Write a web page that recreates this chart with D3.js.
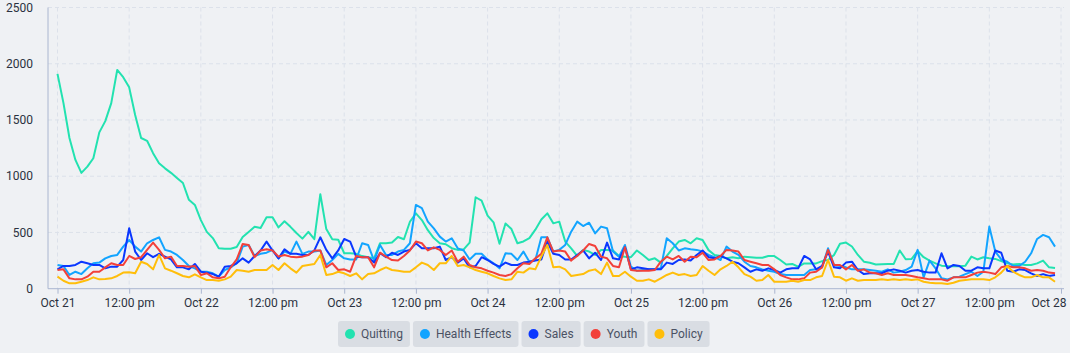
<!DOCTYPE html>
<html>
<head>
<meta charset="utf-8">
<script src="https://cdn.jsdelivr.net/npm/d3@7"></script>
<style>
  html, body { margin: 0; padding: 0; background: #eff1f4; }
  svg { display: block; font-family: Roboto, "Noto Sans", sans-serif; }
</style>
</head>
<body>
<svg id="chart"></svg>
<script>
// hourly counts, Oct 21 00:00 .. Oct 27 23:00
const startDate = new Date(2023, 9, 21, 0, 0);
const endDate = new Date(2023, 9, 28, 0, 0);

const seriesNames = ["Quitting", "Health Effects", "Sales", "Youth", "Policy"];
const seriesColors = ["#22e2b0", "#12a4ff", "#0a37ff", "#f2403a", "#ffbe0b"];
const yTicks = [0, 500, 1000, 1500, 2000, 2500];

const quitting = [
  1910, 1650, 1340, 1145, 1030, 1085, 1160, 1390, 1490, 1650, 1945, 1880, 1790, 1545, 1340, 1315, 1205, 1115, 1070, 1030, 985, 940, 790, 745,
  610, 505, 450, 360, 355, 355, 370, 460, 505, 550, 540, 635, 635, 545, 600, 550, 495, 445, 505, 440, 840, 530, 440, 435,
  315, 315, 310, 290, 280, 270, 405, 405, 410, 460, 440, 595, 670, 610, 520, 450, 405, 395, 360, 345, 350, 410, 813, 783,
  650, 590, 400, 580, 530, 404, 420, 450, 525, 615, 670, 581, 596, 419, 359, 291, 345, 330, 300, 345, 345, 340, 291, 285,
  280, 340, 300, 255, 270, 232, 291, 359, 419, 433, 404, 448, 433, 343, 300, 290, 270, 280, 270, 285, 280, 275, 275, 290,
  290, 255, 215, 220, 195, 225, 225, 225, 245, 255, 300, 400, 410, 375, 300, 240, 230, 215, 218, 220, 220, 340, 262, 265,
  335, 280, 250, 225, 205, 200, 200, 200, 205, 285, 260, 280, 270, 265, 245, 225, 215, 220, 210, 210, 225, 250, 190, 185
];
const healthEffects = [
  211, 202, 122, 151, 130, 181, 226, 232, 270, 291, 300, 374, 433, 374, 330, 404, 433, 457, 345, 330, 300, 255, 202, 181,
  151, 151, 137, 107, 166, 190, 226, 374, 389, 291, 310, 320, 345, 270, 330, 310, 419, 310, 330, 330, 340, 211, 255, 310,
  270, 260, 260, 404, 389, 250, 389, 300, 300, 330, 345, 404, 745, 716, 596, 537, 463, 419, 448, 359, 340, 260, 310, 310,
  260, 226, 181, 315, 310, 255, 330, 240, 255, 457, 457, 330, 345, 389, 507, 596, 557, 587, 492, 552, 537, 330, 285, 389,
  196, 160, 166, 172, 172, 181, 448, 404, 340, 359, 350, 345, 330, 300, 280, 255, 374, 330, 300, 240, 202, 190, 172, 160,
  151, 130, 122, 122, 122, 122, 166, 172, 190, 359, 211, 202, 190, 172, 172, 172, 166, 160, 151, 172, 143, 151, 166, 196,
  345, 101, 250, 181, 92, 83, 101, 107, 130, 151, 113, 151, 552, 330, 260, 240, 202, 202, 240, 315, 442, 478, 457, 374
];
const sales = [
  172, 202, 202, 211, 240, 226, 211, 211, 181, 196, 196, 255, 537, 330, 255, 315, 280, 310, 285, 260, 190, 190, 172, 220,
  151, 143, 130, 107, 196, 202, 226, 270, 232, 291, 340, 419, 340, 270, 350, 310, 310, 300, 300, 340, 457, 345, 270, 340,
  442, 419, 285, 280, 280, 232, 315, 280, 320, 300, 330, 345, 404, 359, 359, 359, 374, 255, 280, 232, 270, 190, 202, 280,
  255, 220, 196, 232, 211, 211, 232, 240, 250, 260, 419, 310, 300, 260, 260, 300, 340, 270, 320, 255, 410, 270, 260, 368,
  172, 190, 181, 172, 172, 172, 232, 220, 255, 260, 250, 300, 340, 280, 270, 291, 270, 240, 226, 190, 151, 172, 160, 181,
  166, 143, 172, 181, 181, 291, 260, 172, 202, 330, 190, 181, 232, 240, 166, 130, 137, 137, 137, 160, 172, 160, 143, 160,
  166, 151, 143, 143, 315, 181, 211, 202, 160, 160, 190, 181, 181, 340, 320, 160, 151, 172, 166, 137, 113, 130, 113, 122
];
const youth = [
  166, 172, 92, 83, 83, 107, 151, 151, 190, 226, 211, 211, 291, 264, 280, 345, 410, 345, 270, 285, 202, 202, 196, 202,
  122, 137, 101, 92, 107, 190, 260, 398, 389, 280, 340, 350, 340, 285, 300, 285, 280, 285, 300, 340, 340, 190, 226, 166,
  172, 151, 291, 280, 280, 190, 320, 285, 255, 250, 291, 340, 419, 404, 340, 368, 345, 300, 340, 240, 285, 211, 190, 181,
  160, 143, 122, 113, 130, 181, 226, 220, 270, 310, 457, 330, 340, 330, 250, 291, 340, 398, 380, 285, 270, 202, 190, 368,
  166, 160, 160, 160, 166, 240, 285, 260, 291, 240, 285, 280, 320, 255, 260, 291, 345, 340, 330, 255, 240, 226, 211, 211,
  172, 122, 101, 83, 83, 92, 143, 151, 190, 345, 211, 211, 172, 211, 160, 172, 143, 137, 122, 137, 122, 122, 122, 113,
  101, 92, 83, 83, 83, 71, 101, 101, 101, 122, 143, 151, 143, 130, 190, 202, 190, 190, 181, 160, 166, 160, 143, 137
];
const policy = [
  107, 71, 48, 48, 62, 77, 101, 83, 86, 92, 113, 143, 146, 137, 240, 220, 172, 300, 181, 160, 137, 113, 101, 128,
  101, 77, 77, 71, 83, 107, 166, 160, 151, 166, 166, 166, 211, 166, 226, 181, 143, 202, 211, 220, 300, 122, 130, 151,
  137, 113, 137, 83, 130, 137, 166, 190, 166, 160, 151, 151, 190, 232, 211, 166, 226, 226, 291, 202, 211, 190, 166, 151,
  137, 113, 92, 77, 83, 151, 143, 181, 172, 285, 389, 190, 196, 172, 113, 122, 130, 160, 172, 130, 232, 113, 113, 151,
  107, 71, 71, 83, 62, 92, 122, 143, 122, 130, 113, 122, 202, 160, 122, 172, 202, 240, 190, 130, 107, 71, 77, 122,
  62, 62, 62, 71, 62, 77, 77, 101, 113, 255, 107, 101, 71, 92, 71, 77, 77, 77, 83, 77, 83, 77, 83, 77,
  83, 62, 53, 48, 48, 42, 53, 71, 77, 83, 83, 83, 77, 101, 143, 202, 151, 122, 101, 101, 122, 101, 101, 62
];

const allSeries = [quitting, healthEffects, sales, youth, policy];

const W = 1070, H = 353;
const svg = d3.select("#chart").attr("width", W).attr("height", H);

const axisLeftX = 48, plotRight = 1064;
const x = d3.scaleTime().domain([startDate, endDate]).range([57.5, 1061]);
const y = d3.scaleLinear().domain([0, 2500]).range([288.7, 7.5]);

const gridColor = "#dce1ea";
const axisColor = "#aab6d0";
const textColor = "#2b3140";
const fontSize = 12;

// horizontal grid
svg.append("g").selectAll("line")
  .data(yTicks.filter(d => d > 0))
  .enter().append("line")
  .attr("x1", axisLeftX).attr("x2", plotRight)
  .attr("y1", d => y(d)).attr("y2", d => y(d))
  .attr("stroke", gridColor).attr("stroke-dasharray", "4,3");

const xTickDates = d3.timeHour.every(12).range(startDate, d3.timeHour.offset(endDate, 1));

// vertical grid
svg.append("g").selectAll("line")
  .data(xTickDates)
  .enter().append("line")
  .attr("x1", d => x(d)).attr("x2", d => x(d))
  .attr("y1", y(2500)).attr("y2", y(0))
  .attr("stroke", gridColor).attr("stroke-dasharray", "4,3");

// y axis labels
svg.append("g").selectAll("text")
  .data(yTicks)
  .enter().append("text")
  .attr("x", 33).attr("y", d => y(d))
  .attr("dy", "0.35em")
  .attr("text-anchor", "end")
  .attr("font-size", fontSize)
  .attr("fill", textColor)
  .text(d => d);

svg.append("line")
  .attr("x1", axisLeftX).attr("x2", axisLeftX)
  .attr("y1", y(2500)).attr("y2", y(0))
  .attr("stroke", axisColor);

// x axis
const fmtDay = d3.timeFormat("%b %d");
const fmtHour = d3.timeFormat("%I:%M %p");
const xAxis = d3.axisBottom(x)
  .tickValues(xTickDates)
  .tickSize(5)
  .tickPadding(5)
  .tickFormat(d => d.getHours() === 0 ? fmtDay(d) : fmtHour(d).toLowerCase());

const gx = svg.append("g")
  .attr("transform", "translate(0," + y(0) + ")")
  .call(xAxis);
gx.select(".domain").remove();
gx.selectAll(".tick line").attr("stroke", axisColor);
gx.selectAll(".tick text")
  .attr("font-size", fontSize)
  .attr("font-family", "Roboto, sans-serif")
  .attr("fill", textColor);
// keep the last label inside the frame
gx.selectAll(".tick text").filter((d, i, n) => i === n.length - 1)
  .attr("text-anchor", "end")
  .attr("x", W - 4 - x(endDate));

svg.append("line")
  .attr("x1", axisLeftX).attr("x2", plotRight)
  .attr("y1", y(0)).attr("y2", y(0))
  .attr("stroke", axisColor);

// lines
const line = d3.line()
  .x((d, i) => x(d3.timeHour.offset(startDate, i)))
  .y(d => y(d));

svg.append("g").selectAll("path")
  .data(allSeries)
  .enter().append("path")
  .attr("d", d => line(d))
  .attr("fill", "none")
  .attr("stroke", (d, i) => seriesColors[i])
  .attr("stroke-width", 2)
  .attr("stroke-linejoin", "round");

// legend
const legend = svg.append("g");
const items = legend.selectAll("g")
  .data(seriesNames)
  .enter().append("g");

items.append("rect")
  .attr("rx", 3).attr("ry", 3)
  .attr("fill", "#d9dde3");
items.append("circle")
  .attr("r", 5)
  .attr("fill", (d, i) => seriesColors[i]);
items.append("text")
  .attr("font-size", 12)
  .attr("fill", "#4b5263")
  .attr("dy", "0.35em")
  .text(d => d);

let widths = [];
items.each(function() {
  const tw = d3.select(this).select("text").node().getComputedTextLength();
  widths.push(tw + 30);
});
const gap = 3;
let cx = 338;
const legendTop = 321, legendH = 26;
items.each(function(d, i) {
  const g = d3.select(this).attr("transform", "translate(" + cx + "," + legendTop + ")");
  g.select("rect").attr("width", widths[i]).attr("height", legendH);
  g.select("circle").attr("cx", 12).attr("cy", legendH / 2);
  g.select("text").attr("x", 23).attr("y", legendH / 2);
  cx += widths[i] + gap;
});
</script>
</body>
</html>
